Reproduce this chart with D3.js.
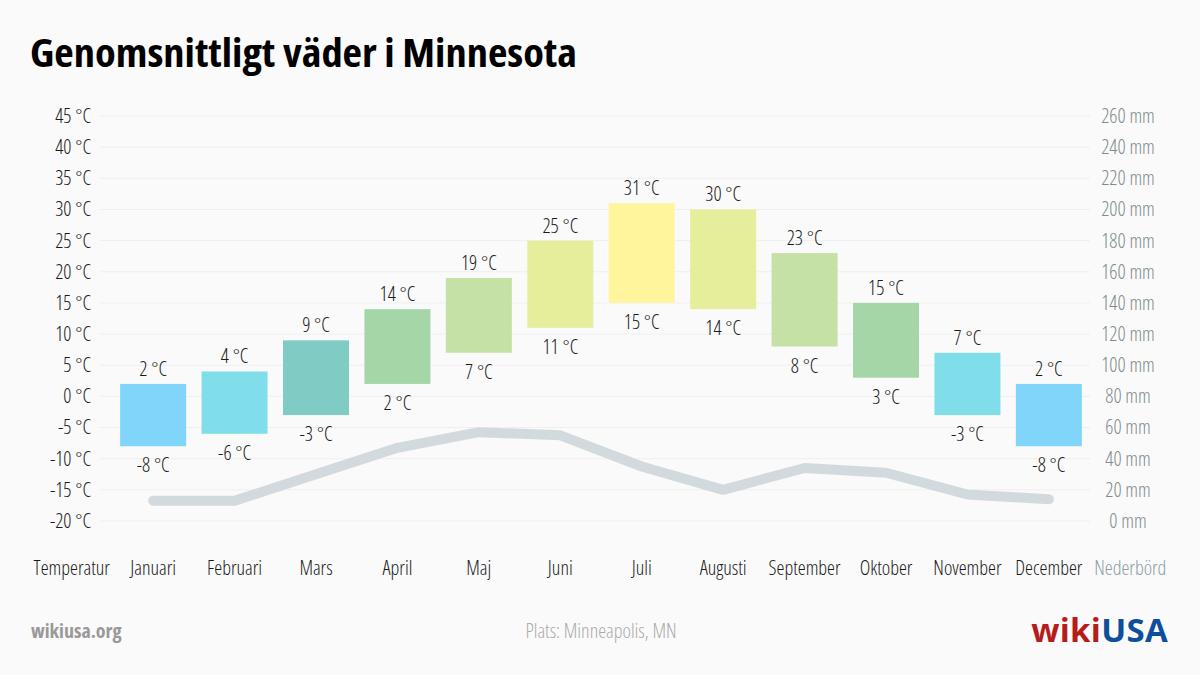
<!DOCTYPE html>
<html>
<head>
<meta charset="utf-8">
<script src="https://cdn.jsdelivr.net/npm/d3@7"></script>
<style>
  html, body { margin: 0; padding: 0; background: #fafafa; }
  svg { display: block; }
  text { font-family: "Open Sans", "Noto Sans", sans-serif; font-stretch: 75%; font-weight: 300; }
</style>
</head>
<body>
<svg id="chart" width="1200" height="675"></svg>
<script>
const months = ["Januari","Februari","Mars","April","Maj","Juni","Juli","Augusti","September","Oktober","November","December"];
const highs = [2, 4, 9, 14, 19, 25, 31, 30, 23, 15, 7, 2];
const lows = [-8, -6, -3, 2, 7, 11, 15, 14, 8, 3, -3, -8];
const precip = [13, 13, 30, 47, 57, 55, 35, 20, 34, 31, 17, 14];
const barColors = ["#81d4fa","#80deea","#80cbc4","#a5d6a7","#c5e1a5","#e6ee9c","#fff59d","#e6ee9c","#c5e1a5","#a5d6a7","#80deea","#81d4fa"];
const tempTicks = [-20,-15,-10,-5,0,5,10,15,20,25,30,35,40,45];
const precTicks = [0,20,40,60,80,100,120,140,160,180,200,220,240,260];

const svg = d3.select("#chart");
const W = 1200, H = 675;
svg.append("rect").attr("width", W).attr("height", H).attr("fill", "#fafafa");

const cols = ["Temperatur", ...months, "Nederbörd"];
const x = d3.scaleBand().domain(cols).range([31, 1171]).paddingInner(0.2).paddingOuter(0.1);
const y = d3.scaleLinear().domain([-20, 45]).range([521, 116]);
const yp = d3.scaleLinear().domain([0, 260]).range([521, 116]);
const FS = 20;
const INK = "#1a1a1a";

// title
svg.append("text").attr("x", 30).attr("y", 67)
  .attr("font-size", 39).style("font-weight", 700).style("font-stretch", "87.5%")
  .attr("textLength", 547).attr("lengthAdjust", "spacingAndGlyphs")
  .attr("fill", "#000")
  .text("Genomsnittligt väder i Minnesota");

// gridlines
svg.append("g").selectAll("line").data(tempTicks).join("line")
  .attr("x1", 100).attr("x2", 1090)
  .attr("y1", d => y(d)).attr("y2", d => y(d))
  .attr("stroke", "#efefef").attr("stroke-width", 1);

// left axis
const yAxisL = d3.axisLeft(y).tickValues(tempTicks).tickSize(0).tickFormat(d => d + " °C");
const gL = svg.append("g").attr("transform", "translate(91,0)").call(yAxisL);
gL.select(".domain").remove();
gL.selectAll("text").attr("font-size", FS).attr("fill", INK).attr("x", 0)
  .attr("font-family", null);

// right axis
const yAxisR = d3.axisRight(yp).tickValues(precTicks).tickSize(0).tickFormat(d => d + " mm");
const gR = svg.append("g").attr("transform", "translate(1128,0)").call(yAxisR);
gR.select(".domain").remove();
gR.selectAll("text").attr("font-size", FS).attr("fill", "#7f8c8d").attr("x", 0).attr("text-anchor", "middle")
  .attr("font-family", null);

// x labels
const gx = svg.append("g");
gx.selectAll("text").data(cols).join("text")
  .attr("x", d => x(d) + x.bandwidth() / 2)
  .attr("y", 575)
  .attr("text-anchor", "middle")
  .attr("font-size", FS)
  .attr("fill", d => d === "Nederbörd" ? "#8e9ea6" : INK)
  .text(d => d);

// precipitation line
const line = d3.line()
  .x((d, i) => x(months[i]) + x.bandwidth() / 2)
  .y(d => yp(d));
svg.append("path").datum(precip)
  .attr("d", line)
  .attr("fill", "none")
  .attr("stroke", "#d3dade")
  .attr("stroke-width", 10)
  .attr("stroke-linecap", "round")
  .attr("stroke-linejoin", "round");

// bars
const bw = 66;
const bars = svg.append("g");
bars.selectAll("rect").data(months).join("rect")
  .attr("x", d => x(d) + x.bandwidth() / 2 - bw / 2)
  .attr("width", bw)
  .attr("y", (d, i) => y(highs[i]))
  .attr("height", (d, i) => y(lows[i]) - y(highs[i]))
  .attr("fill", (d, i) => barColors[i]);

// labels
svg.append("g").selectAll("text").data(months).join("text")
  .attr("x", d => x(d) + x.bandwidth() / 2)
  .attr("y", (d, i) => y(highs[i]) - 8)
  .attr("text-anchor", "middle").attr("font-size", FS).attr("fill", INK)
  .text((d, i) => highs[i] + " °C");
svg.append("g").selectAll("text").data(months).join("text")
  .attr("x", d => x(d) + x.bandwidth() / 2)
  .attr("y", (d, i) => y(lows[i]) + 26)
  .attr("text-anchor", "middle").attr("font-size", FS).attr("fill", INK)
  .text((d, i) => lows[i] + " °C");

// footer
svg.append("text").attr("x", 31).attr("y", 638).attr("font-size", 20)
  .style("font-weight", 700).style("font-stretch", "80%")
  .attr("fill", "#999").text("wikiusa.org");
svg.append("text").attr("x", 601).attr("y", 638).attr("text-anchor", "middle").attr("font-size", 20)
  .attr("fill", "#aaa").text("Plats: Minneapolis, MN");
const logo = svg.append("text").attr("x", 1168).attr("y", 642).attr("text-anchor", "end")
  .attr("font-size", 33).style("font-weight", 700).style("font-stretch", "100%").attr("letter-spacing", 0.3);
logo.append("tspan").attr("fill", "#b71c1c").text("wiki");
logo.append("tspan").attr("fill", "#0d4f9c").text("USA");
</script>
</body>
</html>
